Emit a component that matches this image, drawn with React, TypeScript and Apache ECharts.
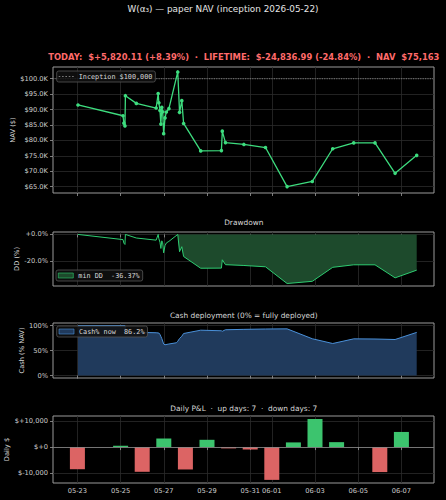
import React, { useEffect, useRef } from 'react';
import * as echarts from 'echarts';

const FONT = 'DejaVu Sans, sans-serif';
const MONO = 'DejaVu Sans Mono, monospace';

const TITLE = 'W(α₃) — paper NAV (inception 2026-05-22)';
const STATS = 'TODAY:  $+5,820.11 (+8.39%)  ·  LIFETIME:  $-24,836.99 (-24.84%)  ·  NAV  $75,163';
const INCEPTION_NAV = 100000;
const INCEPTION_LABEL = 'Inception $100,000';
const MIN_DD_LABEL = 'min DD  -36.37%';

const X_RANGE = ['2026-05-21T20:53', '2026-06-08T12:13'];
const X_TICKS = ['2026-05-23', '2026-05-25', '2026-05-27', '2026-05-29', '2026-05-31', '2026-06-01', '2026-06-03', '2026-06-05', '2026-06-07'];

const NAV_TICKS = [65000, 70000, 75000, 80000, 85000, 90000, 95000, 100000];
const DD_TICKS = [-20, 0];
const CASH_TICKS = [0, 50, 100];
const PNL_TICKS = [-10000, 0, 10000];

const navTimes = [
  '2026-05-23T00:40', '2026-05-25T02:40', '2026-05-25T03:40', '2026-05-25T04:50', '2026-05-25T05:20',
  '2026-05-25T17:30', '2026-05-26T15:30', '2026-05-26T17:45', '2026-05-26T18:30', '2026-05-26T19:45',
  '2026-05-26T20:45', '2026-05-26T21:45', '2026-05-26T22:45', '2026-05-26T23:50', '2026-05-27T01:20',
  '2026-05-27T02:50', '2026-05-27T05:40', '2026-05-27T15:30', '2026-05-27T17:30', '2026-05-27T20:00',
  '2026-05-27T22:00', '2026-05-28T17:00', '2026-05-29T16:00', '2026-05-29T17:00', '2026-05-29T20:30',
  '2026-05-30T17:00', '2026-05-31T17:00', '2026-06-01T17:00', '2026-06-02T21:00', '2026-06-03T19:40',
  '2026-06-04T19:00', '2026-06-05T18:40', '2026-06-06T17:00', '2026-06-07T17:00',
];
const navValues = [
  91500, 88000, 85600, 84700, 94500,
  92000, 90500, 95200, 92200, 89700,
  85300, 90700, 89300, 82200, 87300,
  89200, 90300, 102200, 89100, 92900,
  85500, 76600, 76700, 83000, 79300,
  78700, 77700, 65030, 66700, 77300,
  79200, 79200, 69343, 75163,
];

const cashTimes = [
  '2026-05-23T00:40', '2026-05-25T04:50', '2026-05-25T05:20', '2026-05-25T17:30', '2026-05-26T15:30',
  '2026-05-26T18:30', '2026-05-26T19:45', '2026-05-26T20:45', '2026-05-26T21:45', '2026-05-26T23:50',
  '2026-05-27T01:20', '2026-05-27T05:40', '2026-05-27T14:00', '2026-05-27T15:30', '2026-05-27T17:30',
  '2026-05-27T20:00', '2026-05-27T22:00', '2026-05-28T17:00', '2026-05-29T16:00', '2026-05-29T17:00',
  '2026-05-29T20:30', '2026-05-30T17:00', '2026-05-31T17:00', '2026-06-01T17:00', '2026-06-02T21:00',
  '2026-06-03T19:40', '2026-06-04T19:00', '2026-06-05T18:40', '2026-06-06T17:00', '2026-06-07T17:00',
];
const cashValues = [
  100, 100, 87, 86.5, 85.5,
  85, 82, 78, 74, 63,
  61.5, 63, 65.5, 68.5, 74,
  78.5, 84, 90.6, 89.5, 88.5,
  91.5, 92.3, 93, 93.3, 73.5,
  64, 73.3, 73, 72, 86.2,
];

const pnlDates = [
  '2026-05-23', '2026-05-25', '2026-05-26', '2026-05-27', '2026-05-28', '2026-05-29', '2026-05-30',
  '2026-05-31', '2026-06-01', '2026-06-02', '2026-06-03', '2026-06-04', '2026-06-06', '2026-06-07',
];
const pnlValues = [
  -8500, 500, -9500, 3300, -8600, 2800, -500,
  -900, -12600, 1800, 10800, 1900, -9600, 5820,
];

const ts = (s: string) => Date.parse(s.length === 10 ? s + 'T00:00:00Z' : s + ':00Z');
const fmtDate = (v: number) => {
  const d = new Date(v);
  return String(d.getUTCMonth() + 1).padStart(2, '0') + '-' + String(d.getUTCDate()).padStart(2, '0');
};

const BG = '#000000';
const GRID = '#2b2b2b';
const SPINE = '#9a9a9a';
const TXT = '#d8d8d8';
const TICKTXT = '#cfcfcf';
const NAV_GREEN = '#3ddc7e';
const DD_GREEN = '#2ecc71';
const DD_FILL = '#1d4a2c';
const CASH_LINE = '#4a90d9';
const CASH_FILL = '#203a5c';
const UP = '#3cc46e';
const DOWN = '#dc6464';
const STAT_RED = '#ff6b6b';
const INCEPTION_GRAY = '#7a7a7a';
const DOTTED_ICON = 'path://M0,0h1.6v1h-1.6z M3.35,0h1.6v1h-1.6z M6.7,0h1.6v1h-1.6z M10.05,0h1.6v1h-1.6z M13.4,0h1.6v1h-1.6z';

export default function App() {
  const ref = useRef<HTMLDivElement>(null);
  useEffect(() => {
    document.body.style.margin = '0';
    if (!ref.current) return;
    const chart = echarts.init(ref.current, undefined, { renderer: 'svg' });

    const xMin = ts(X_RANGE[0]);
    const xMax = ts(X_RANGE[1]);
    const xTicks = X_TICKS.map(ts);

    const navData = navTimes.map((t, i) => [ts(t), navValues[i]]);
    let runMax = -Infinity;
    const ddValues = navValues.map((v) => {
      runMax = Math.max(runMax, v);
      return (v / runMax - 1) * 100;
    });
    const peakIdx = navValues.indexOf(Math.max(...navValues));
    const ddData = navTimes.map((t, i) => [ts(t), ddValues[i]]);
    const ddFillData = navTimes.map((t, i) => [ts(t), i >= peakIdx ? ddValues[i] : null]);
    const cashData = cashTimes.map((t, i) => [ts(t), cashValues[i]]);
    const pnlData = pnlDates.map((d, i) => [ts(d), pnlValues[i]]);
    const upDays = pnlValues.filter((v) => v > 0).length;
    const downDays = pnlValues.filter((v) => v < 0).length;
    const cashLabel = 'Cash% now  ' + cashValues[cashValues.length - 1].toFixed(1) + '%';

    const gridBoxes = [
      { top: 67, height: 126 },
      { top: 232, height: 54 },
      { top: 323, height: 55 },
      { top: 416, height: 67 },
    ];
    const grids = gridBoxes.map((g) => ({
      left: 53, width: 381, top: g.top, height: g.height,
      show: true, borderColor: SPINE, borderWidth: 1, backgroundColor: BG,
      containLabel: false, outerBoundsMode: 'none',
    }));

    const xAxis = [0, 1, 2, 3].map((gi) => ({
      type: 'value', gridIndex: gi, min: xMin, max: xMax,
      axisLine: { show: false },
      axisTick: { show: true, customValues: xTicks, length: 3, lineStyle: { color: SPINE, width: 0.8 } },
      axisLabel: {
        show: gi === 3, customValues: xTicks, formatter: fmtDate, color: TICKTXT,
        fontSize: 6.7, fontFamily: FONT, margin: 4.5,
      },
      splitLine: { show: true, lineStyle: { color: GRID, width: 0.8 } },
    }));

    const yBase = (gi: number, min: number, max: number, ticks: number[], fmt: (v: number) => string) => ({
      type: 'value', gridIndex: gi, min, max,
      axisLine: { show: false },
      axisTick: { show: true, customValues: ticks, length: 3, lineStyle: { color: SPINE, width: 0.8 } },
      axisLabel: { customValues: ticks, formatter: fmt, color: TICKTXT, fontSize: 6.7, fontFamily: FONT, margin: 5 },
      splitLine: { show: true, lineStyle: { color: GRID, width: 0.8 } },
    });

    const yAxis = [
      yBase(0, 62960, 103800, NAV_TICKS, (v) => '$' + (v / 1000).toFixed(1) + 'K'),
      yBase(1, -38.2, 1.8, DD_TICKS, (v) => (v >= 0 ? '+' : '') + v.toFixed(1) + '%'),
      yBase(2, -5, 105, CASH_TICKS, (v) => v + '%'),
      yBase(3, -13800, 11950, PNL_TICKS, (v) => '$' + (v < 0 ? '-' : '+') + Math.abs(v).toLocaleString('en-US')),
    ];

    const yNames = [
      { text: 'NAV ($)', x: 13.3 },
      { text: 'DD (%)', x: 17.3 },
      { text: 'Cash (% NAV)', x: 22.3 },
      { text: 'Daily $', x: 7.3 },
    ];

    const legendBase = {
      orient: 'vertical',
      backgroundColor: 'rgba(16,16,16,0.85)',
      borderColor: '#555555', borderWidth: 0.8, borderRadius: 2,
      padding: [2, 3, 2, 2],
      itemWidth: 15, itemHeight: 5, itemGap: 4,
      textStyle: { color: TXT, fontSize: 6.8, fontFamily: MONO, padding: [0, 0, 0, 0] },
      selectedMode: false,
    };

    const option = {
      animation: false,
      backgroundColor: BG,
      grid: grids,
      xAxis,
      yAxis,
      legend: [
        { ...legendBase, left: 56.7, top: 71, itemHeight: 1, data: [{ name: INCEPTION_LABEL, icon: DOTTED_ICON, itemStyle: { color: INCEPTION_GRAY } }] },
        { ...legendBase, left: 56, top: 270, data: [{ name: MIN_DD_LABEL, icon: 'rect', itemStyle: { color: DD_FILL, borderColor: DD_GREEN, borderWidth: 0.6 } }] },
        { ...legendBase, left: 56.7, top: 326, data: [{ name: cashLabel, icon: 'rect', itemStyle: { color: CASH_FILL, borderColor: CASH_LINE, borderWidth: 0.6 } }] },
      ],
      graphic: [
        { type: 'text', x: 223, y: 8.5, style: { text: TITLE, fill: '#e6e6e6', fontSize: 8.85, fontFamily: FONT, align: 'center', verticalAlign: 'middle' } },
        { type: 'text', x: 243.8, y: 57.3, style: { text: STATS, fill: STAT_RED, fontSize: 8.4, fontWeight: 'bold', fontFamily: FONT, align: 'center', verticalAlign: 'middle' } },
        { type: 'text', x: 243.8, y: 222.7, style: { text: 'Drawdown', fill: TXT, fontSize: 7.4, fontFamily: FONT, align: 'center', verticalAlign: 'middle' } },
        { type: 'text', x: 243.8, y: 315.7, style: { text: 'Cash deployment (0% = fully deployed)', fill: TXT, fontSize: 7.4, fontFamily: FONT, align: 'center', verticalAlign: 'middle' } },
        { type: 'text', x: 243.8, y: 408.3, style: { text: 'Daily P&L  ·  up days: ' + upDays + '  ·  down days: ' + downDays, fill: TXT, fontSize: 7.4, fontFamily: FONT, align: 'center', verticalAlign: 'middle' } },
        ...yNames.map((n, i) => ({
          type: 'text', x: n.x, y: gridBoxes[i].top + gridBoxes[i].height / 2, rotation: Math.PI / 2,
          style: { text: n.text, fill: TXT, fontSize: 6.7, fontFamily: FONT, align: 'center', verticalAlign: 'middle' },
        })),
      ],
      series: [
        {
          type: 'line', name: INCEPTION_LABEL, xAxisIndex: 0, yAxisIndex: 0,
          data: [[xMin, INCEPTION_NAV], [xMax, INCEPTION_NAV]],
          symbol: 'none', silent: true, z: 1,
          lineStyle: { color: INCEPTION_GRAY, width: 1, type: [1.2, 1.2] },
          itemStyle: { color: INCEPTION_GRAY },
        },
        {
          type: 'line', name: 'NAV', xAxisIndex: 0, yAxisIndex: 0, data: navData,
          symbol: 'circle', symbolSize: 3.6, showSymbol: true,
          lineStyle: { color: NAV_GREEN, width: 1.3 }, itemStyle: { color: NAV_GREEN }, z: 3,
        },
        {
          type: 'line', name: MIN_DD_LABEL, xAxisIndex: 1, yAxisIndex: 1, data: ddFillData,
          symbol: 'none', lineStyle: { width: 0, opacity: 0 },
          areaStyle: { color: DD_FILL, opacity: 1 }, itemStyle: { color: DD_FILL }, z: 2,
        },
        {
          type: 'line', name: 'DD', xAxisIndex: 1, yAxisIndex: 1, data: ddData,
          symbol: 'none', lineStyle: { color: DD_GREEN, width: 1 }, z: 3,
        },
        {
          type: 'line', name: cashLabel, xAxisIndex: 2, yAxisIndex: 2, data: cashData,
          symbol: 'none', lineStyle: { color: CASH_LINE, width: 1 },
          areaStyle: { color: CASH_FILL, opacity: 1 }, itemStyle: { color: CASH_FILL }, z: 2,
        },
        {
          type: 'bar', name: 'Daily P&L', xAxisIndex: 3, yAxisIndex: 3, data: pnlData, barWidth: 15,
          itemStyle: { color: (p: any) => (p.value[1] >= 0 ? UP : DOWN) },
          markLine: {
            silent: true, symbol: 'none', label: { show: false },
            lineStyle: { color: '#8a8a8a', width: 0.8, type: 'solid' },
            data: [{ yAxis: 0 }],
          },
        },
      ],
    };

    chart.setOption(option as any);
    return () => chart.dispose();
  }, []);

  return <div ref={ref} style={{ position: 'absolute', left: 0, top: 0, width: 446, height: 500, background: BG }} />;
}
